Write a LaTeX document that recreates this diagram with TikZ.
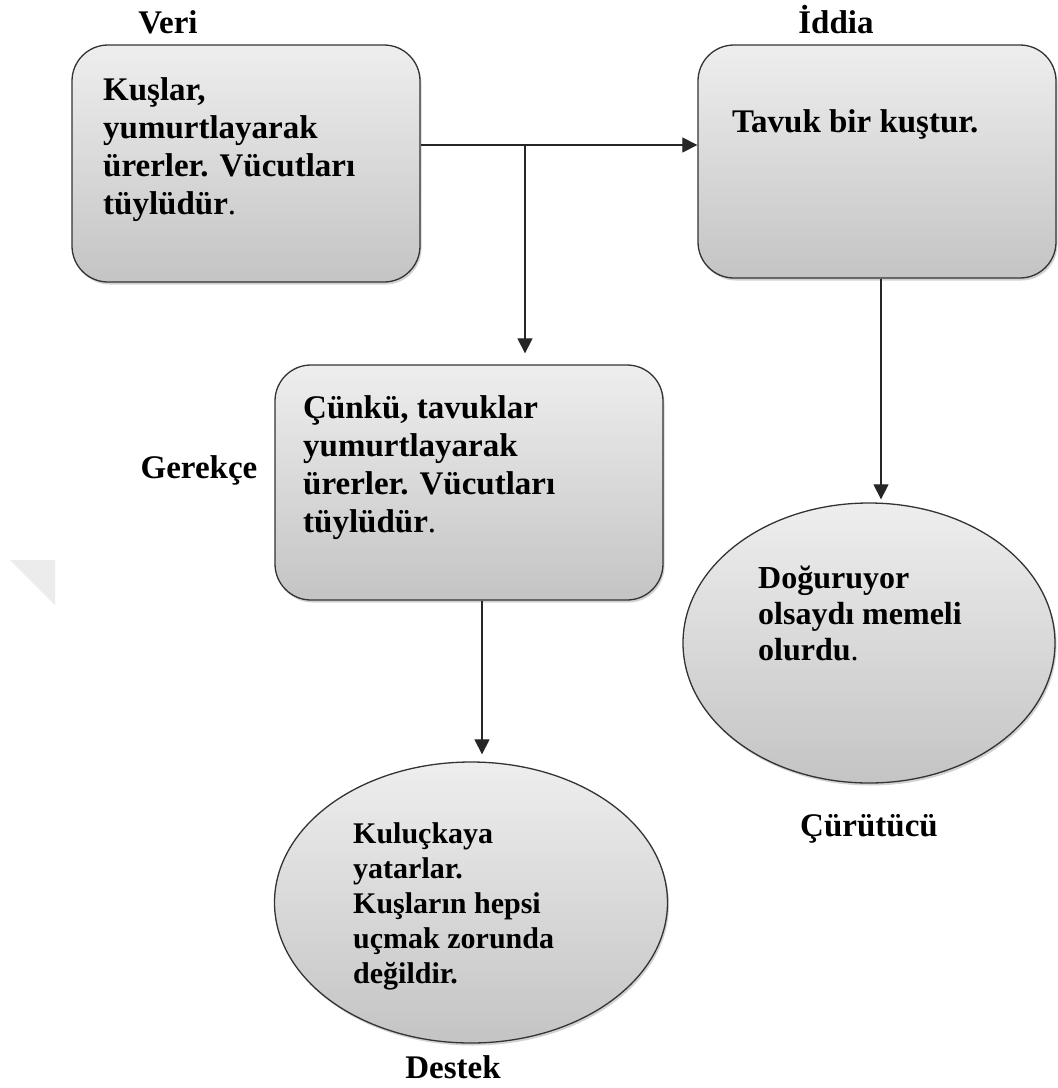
\documentclass[tikz,border=0pt]{standalone}
\usepackage{fontspec}
\setmainfont{Liberation Serif}
\usetikzlibrary{shapes.geometric,arrows.meta,shadows}
\definecolor{topg}{RGB}{238,238,238}
\definecolor{botg}{RGB}{196,196,196}
\definecolor{wm}{RGB}{236,236,236}
\newcommand\txtblock[1]{\begin{tabular}[t]{@{}l@{}}#1\end{tabular}}
\begin{document}
\begin{tikzpicture}[x=1pt,y=-1pt,
  shapebox/.style={draw=black!80, line width=1.3pt, top color=topg, bottom color=botg,
    drop shadow={shadow xshift=1.5pt, shadow yshift=-2.5pt, opacity=0.35}},
  rbox/.style={shapebox, rectangle, rounded corners=36pt, inner sep=0pt},
  ell/.style={shapebox, ellipse, inner sep=0pt},
  body/.style={anchor=base west, inner sep=0pt},
  lab/.style={anchor=base, inner sep=0pt, font=\fontsize{33}{38}\selectfont\bfseries},
  arr/.style={line width=1.2pt, draw=black!85, -{Triangle[length=15pt,width=15pt]}}
]
\fill[white] (0,0) rectangle (1058,1088);
\useasboundingbox (0,0) rectangle (1058,1088);
\fill[wm] (10,560) -- (55,560) -- (55,605) -- cycle;

% shapes
\node[rbox, minimum width=348pt, minimum height=237pt] (b1) at (246,163.5) {};
\node[rbox, minimum width=358pt, minimum height=233pt] (b2) at (877,161.5) {};
\node[rbox, minimum width=388pt, minimum height=235pt] (b3) at (469,482.5) {};
\node[ell, minimum width=393pt, minimum height=281pt] (e1) at (471,902.5) {};
\node[ell, minimum width=372pt, minimum height=280pt] (e2) at (869,643) {};

% texts
\node[body, font=\fontsize{33}{38}\selectfont\bfseries] (t1) at (103,100)
  {\txtblock{Kuşlar,\\ yumurtlayarak\\ ürerler. Vücutları\\ tüylüdür{\mdseries .}}};
\node[body, font=\fontsize{33}{38}\selectfont\bfseries] (t2) at (732,132)
  {Tavuk bir kuştur.};
\node[body, font=\fontsize{33}{38}\selectfont\bfseries] (t3) at (303,418)
  {\txtblock{Çünkü, tavuklar\\ yumurtlayarak\\ ürerler. Vücutları\\ tüylüdür{\mdseries .}}};
\node[body, font=\fontsize{30}{35}\selectfont\bfseries] (t4) at (353,843)
  {\txtblock{Kuluçkaya\\ yatarlar.\\ Kuşların hepsi\\ uçmak zorunda\\ değildir.}};
\node[body, font=\fontsize{32}{36}\selectfont\bfseries] (t5) at (758,588)
  {\txtblock{Doğuruyor\\ olsaydı memeli\\ olurdu{\mdseries .}}};

% labels
\node[lab] (lveri) at (168,33) {Veri};
\node[lab] (liddia) at (836,33) {İddia};
\node[lab] (lgerek) at (199,478) {Gerekçe};
\node[lab] (ldestek) at (453,1078) {Destek};
\node[lab] (lcuru) at (869,836) {Çürütücü};

% connectors
\coordinate (j) at (525,145);
\coordinate (c3) at (482,0);
\coordinate (c4) at (881,0);
\draw[arr] (j -| b1.east) -- (j -| b2.west);
\draw[arr, shorten >=11pt] (j) -- (j |- b3.north);
\draw[arr, shorten >=7pt] (c3 |- b3.south) -- (c3 |- e1.north);
\draw[arr, shorten >=3pt] (c4 |- b2.south) -- (c4 |- e2.north);
\end{tikzpicture}
\end{document}
